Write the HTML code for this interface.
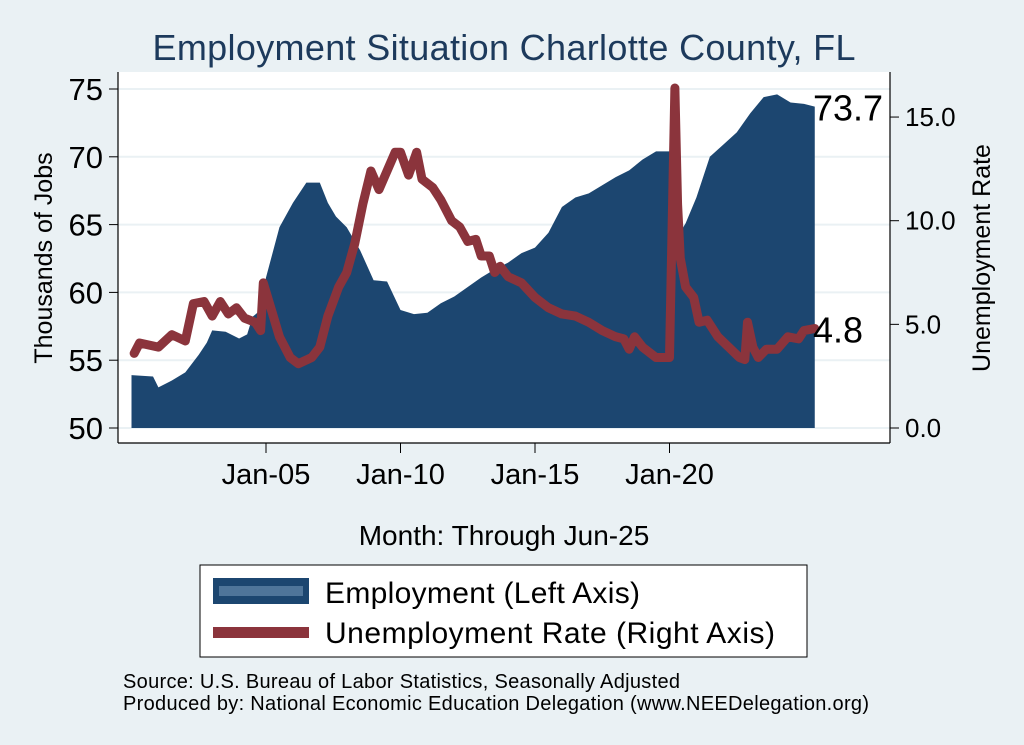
<!DOCTYPE html>
<html><head><meta charset="utf-8">
<style>
body{margin:0;background:#eaf1f4;}
svg{display:block;font-family:"Liberation Sans",Arial,sans-serif;}
</style></head>
<body>
<svg id="chart" width="1024" height="745" viewBox="0 0 1024 745">
<rect x="0" y="0" width="1024" height="745" fill="#eaf1f4"/>
<text x="504" y="60" font-size="36" fill="#1d3a5c" text-anchor="middle" textLength="703">Employment Situation Charlotte  County, FL</text>
<rect x="118" y="72" width="772" height="371" fill="#ffffff"/>
<g id="grid"></g>
<g id="marks"></g>
<g id="axes"></g>
<text transform="translate(52,258) rotate(-90)" font-size="25" text-anchor="middle" fill="#000">Thousands of Jobs</text>
<text transform="translate(990,258) rotate(-90)" font-size="25" text-anchor="middle" fill="#000">Unemployment Rate</text>
<text x="504" y="545" font-size="28" text-anchor="middle" fill="#000">Month: Through Jun-25</text>
<g>
<rect x="200" y="565" width="607" height="92" fill="#fff" stroke="#000" stroke-width="1"/>
<g>
<rect x="213" y="578" width="96" height="26" fill="#1c4670"/>
<rect x="219" y="586" width="84" height="10" fill="#4f759a"/>
<text x="325" y="603" font-size="30" fill="#000" textLength="315">Employment (Left Axis)</text>
</g>
<g>
<rect x="213" y="627" width="96" height="11" fill="#8b343c"/>
<text x="325" y="643" font-size="30" fill="#000" textLength="450">Unemployment Rate (Right Axis)</text>
</g>
</g>
<text x="123" y="688" font-size="20" fill="#000" textLength="557">Source: U.S. Bureau of Labor Statistics, Seasonally Adjusted</text>
<text x="123" y="710" font-size="20" fill="#000" textLength="746">Produced by: National Economic Education Delegation (www.NEEDelegation.org)</text>
</svg>
<script>
const empDates=[2000.0,2000.8,2001.0,2001.5,2002.0,2002.5,2002.8,2003.0,2003.5,2004.0,2004.3,2004.5,2004.8,2005.0,2005.5,2006.0,2006.5,2007.0,2007.3,2007.6,2008.0,2008.5,2009.0,2009.5,2010.0,2010.5,2011.0,2011.5,2012.0,2012.5,2013.0,2013.5,2014.0,2014.5,2015.0,2015.5,2016.0,2016.5,2017.0,2017.5,2018.0,2018.5,2019.0,2019.5,2020.0,2020.2,2020.3,2020.6,2021.0,2021.5,2022.0,2022.5,2023.0,2023.5,2024.0,2024.5,2025.0,2025.4];
const empValues=[53.9,53.8,53.0,53.5,54.1,55.4,56.3,57.2,57.1,56.6,56.9,58.2,58.7,61.1,64.8,66.6,68.1,68.1,66.6,65.6,64.8,63.1,60.9,60.8,58.7,58.4,58.5,59.2,59.7,60.4,61.1,61.7,62.2,62.9,63.3,64.4,66.3,67.0,67.3,67.9,68.5,69.0,69.8,70.4,70.4,70.4,64.1,65.1,67.0,70.0,70.9,71.8,73.2,74.4,74.6,74.0,73.9,73.7];
const urDates=[2000.1,2000.3,2001.0,2001.5,2002.0,2002.3,2002.7,2003.0,2003.3,2003.6,2003.9,2004.2,2004.6,2004.8,2004.9,2005.2,2005.5,2005.9,2006.2,2006.7,2007.0,2007.3,2007.7,2008.0,2008.3,2008.6,2008.9,2009.2,2009.5,2009.8,2010.0,2010.3,2010.6,2010.8,2011.2,2011.5,2011.9,2012.2,2012.5,2012.8,2013.0,2013.3,2013.5,2013.7,2014.0,2014.5,2015.0,2015.5,2016.0,2016.5,2017.0,2017.5,2018.0,2018.3,2018.5,2018.7,2019.0,2019.5,2020.0,2020.2,2020.3,2020.4,2020.6,2020.9,2021.1,2021.4,2021.8,2022.2,2022.6,2022.8,2022.9,2023.1,2023.3,2023.6,2024.0,2024.4,2024.8,2025.0,2025.4];
const urValues=[3.6,4.1,3.9,4.5,4.2,6.0,6.1,5.4,6.1,5.5,5.8,5.3,5.1,4.7,7.0,5.7,4.4,3.4,3.1,3.4,3.9,5.4,6.8,7.5,8.9,10.8,12.4,11.5,12.4,13.3,13.3,12.2,13.3,12.0,11.6,11.0,10.0,9.7,9.0,9.1,8.3,8.3,7.5,7.8,7.3,7.0,6.3,5.8,5.5,5.4,5.1,4.7,4.4,4.3,3.8,4.4,3.9,3.4,3.4,16.4,10.8,8.2,6.8,6.3,5.1,5.2,4.4,3.9,3.4,3.3,5.1,3.9,3.4,3.8,3.8,4.4,4.3,4.7,4.8];
const leftTicks=[50,55,60,65,70,75];
const rightTicks=[0,5,10,15];
const xTickYears=[2005,2010,2015,2020];
const xTickLabels=["Jan-05","Jan-10","Jan-15","Jan-20"];

const NS="http://www.w3.org/2000/svg";
function xs(t){return 266+(t-2005)*26.9;}
function yl(v){return 428-(v-50)*13.56;}
function yr(v){return 428-v*20.73;}
function mk(tag,attrs,parent){const e=document.createElementNS(NS,tag);for(const k in attrs)e.setAttribute(k,attrs[k]);parent.appendChild(e);return e;}
const grid=document.getElementById('grid'),marks=document.getElementById('marks'),axes=document.getElementById('axes');

leftTicks.forEach(v=>{
  const g=mk('line',{x1:118,x2:890,y1:yl(v),y2:yl(v),stroke:'#eaf1f4','stroke-width':2},grid);
  
  
});

let d='M'+xs(empDates[0])+','+yl(50);
for(let i=0;i<empDates.length;i++){
  d+=' L'+xs(empDates[i])+','+yl(empValues[i]);
}
d+=' L'+xs(empDates[empDates.length-1])+','+yl(50)+' Z';
const area=mk('path',{d:d,fill:'#1c4670'},marks);



const pts=urDates.map((t,i)=>xs(t)+','+yr(urValues[i])).join(' ');
const line=mk('polyline',{points:pts,fill:'none',stroke:'#8b343c','stroke-width':9,'stroke-linejoin':'round','stroke-linecap':'round'},marks);



const l1=mk('text',{x:813,y:yl(empValues[empValues.length-1])+14,'font-size':36,fill:'#000'},marks);
l1.textContent=empValues[empValues.length-1].toFixed(1);


const l2=mk('text',{x:813,y:yr(urValues[urValues.length-1])+14,'font-size':36,fill:'#000'},marks);
l2.textContent=urValues[urValues.length-1].toFixed(1);



const la=mk('line',{x1:118,x2:118,y1:72,y2:443,stroke:'#000','stroke-width':1.2},axes);


const ra=mk('line',{x1:890,x2:890,y1:72,y2:443,stroke:'#000','stroke-width':1.2},axes);


const xa=mk('line',{x1:118,x2:890,y1:443,y2:443,stroke:'#000','stroke-width':1.2},axes);



leftTicks.forEach(v=>{
  mk('line',{x1:109,x2:118,y1:yl(v),y2:yl(v),stroke:'#000'},axes);
  const t=mk('text',{x:103,y:yl(v)+11,'font-size':31,'text-anchor':'end',fill:'#000'},axes);
  t.textContent=v;
  
  
});
rightTicks.forEach(v=>{
  mk('line',{x1:890,x2:899,y1:yr(v),y2:yr(v),stroke:'#000'},axes);
  const t=mk('text',{x:905,y:yr(v)+9,'font-size':26,fill:'#000'},axes);
  t.textContent=v.toFixed(1);
  
  
});
xTickYears.forEach((y,i)=>{
  mk('line',{x1:xs(y),x2:xs(y),y1:443,y2:453,stroke:'#000'},axes);
  const t=mk('text',{x:xs(y),y:484,'font-size':29,'text-anchor':'middle',fill:'#000'},axes);
  t.textContent=xTickLabels[i];
  
  
});
</script>
</body></html>
